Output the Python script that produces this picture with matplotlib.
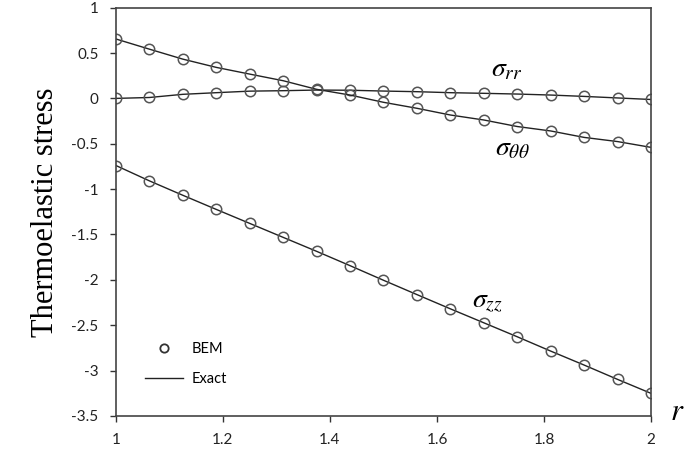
import numpy as np
import matplotlib.pyplot as plt
from matplotlib.lines import Line2D

# radial positions (17 BEM nodes between r=1 and r=2)
r = [1.0, 1.0625, 1.125, 1.1875, 1.25, 1.3125, 1.375, 1.4375, 1.5,
     1.5625, 1.625, 1.6875, 1.75, 1.8125, 1.875, 1.9375, 2.0]

sigma_rr = [0.0, 0.01, 0.045, 0.063, 0.08, 0.085, 0.092, 0.09, 0.081,
            0.074, 0.063, 0.056, 0.048, 0.037, 0.022, 0.005, -0.012]
sigma_tt = [0.655, 0.543, 0.433, 0.342, 0.268, 0.195, 0.10, 0.037, -0.043,
            -0.109, -0.183, -0.238, -0.31, -0.359, -0.43, -0.476, -0.54]
sigma_zz = [-0.74, -0.909, -1.068, -1.224, -1.378, -1.532, -1.686, -1.844, -2.005,
            -2.163, -2.32, -2.474, -2.628, -2.786, -2.94, -3.098, -3.252]

xticks = [1, 1.2, 1.4, 1.6, 1.8, 2]
xticklabels = ['1', '1.2', '1.4', '1.6', '1.8', '2']
yticks = [1, 0.5, 0, -0.5, -1, -1.5, -2, -2.5, -3, -3.5]
yticklabels = ['1', '0.5', '0', '-0.5', '-1', '-1.5', '-2', '-2.5', '-3', '-3.5']

plt.rcParams['mathtext.fontset'] = 'stix'

fig = plt.figure(figsize=(6.86, 4.53), dpi=100)
ax = fig.add_axes([0.169, 0.082, 0.78, 0.901])

mk = dict(marker='o', markersize=7.5, markerfacecolor='none',
          markeredgecolor='#555555', markeredgewidth=1.1, linestyle='none')
for s in (sigma_rr, sigma_tt, sigma_zz):
    ax.plot(r, s, color='#222222', linewidth=1.0)
    ax.plot(r, s, **mk)

ax.set_xlim(1, 2)
ax.set_ylim(-3.5, 1)
ax.set_xticks(xticks)
ax.set_xticklabels(xticklabels)
ax.set_yticks(yticks)
ax.set_yticklabels(yticklabels)
ax.tick_params(direction='out', length=4.5, width=1.0, color='#333333',
               labelsize=11, labelcolor='#222222', pad=8)
for lab in ax.get_xticklabels() + ax.get_yticklabels():
    lab.set_family('Lato')
for sp in ax.spines.values():
    sp.set_color('#444444')
    sp.set_linewidth(1.2)

ax.set_ylabel('Thermoelastic stress', family='Liberation Serif', fontsize=22, labelpad=8)
ax.text(1.05, 0.01, '$r$', transform=ax.transAxes, fontsize=22, ha='center', va='center')

ax.text(1.73, 0.33, r'$\sigma_{rr}$', fontsize=20, ha='center', va='center')
ax.text(1.74, -0.54, r'$\sigma_{\theta\theta}$', fontsize=20, ha='center', va='center')
ax.text(1.695, -2.22, r'$\sigma_{zz}$', fontsize=20, ha='center', va='center')

leg_mk = dict(mk, markersize=6, markeredgecolor='#333333', markeredgewidth=1.3)
handles = [Line2D([], [], **leg_mk), Line2D([], [], color='#222222', linewidth=1.0)]
leg = ax.legend(handles, ['BEM', 'Exact'], loc='lower left', bbox_to_anchor=(0.054, 0.072),
                frameon=False, borderpad=0, borderaxespad=0, handlelength=2.6,
                handletextpad=0.6, labelspacing=1.15, prop={'family': 'Lato', 'size': 10.5})

fig.savefig('out.png', dpi=100)
